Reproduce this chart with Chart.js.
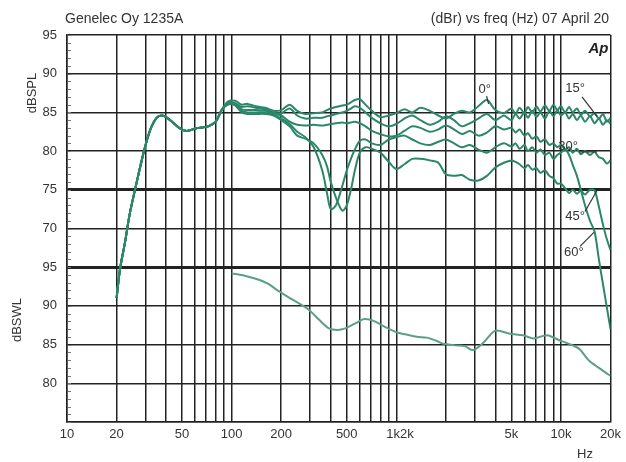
<!DOCTYPE html>
<html><head><meta charset="utf-8">
<script src="https://cdn.jsdelivr.net/npm/chart.js@4.4.1/dist/chart.umd.min.js"></script>
<style>html,body{margin:0;padding:0;background:#fff;}#wrap{width:626px;height:462px;position:relative}</style>
</head><body><div id="wrap"><canvas id="c" width="626" height="462"></canvas></div>
<script>
// ---------- data ----------
const freqHz = [20, 21, 22.5, 24, 26, 28, 30, 32.5, 35, 37.5, 40, 44, 48, 53, 58, 63, 72, 80, 87,
  95, 105, 115, 125, 140, 160, 180,
  200, 225, 250, 280, 315, 355, 380, 400, 430, 470,
  500, 530, 560, 600, 650, 710, 800, 900, 1000,
  1120, 1250, 1400, 1600, 1800, 2000, 2240, 2500, 2800, 3150,
  3550, 4000, 4500, 5000, 5300, 5600, 6000, 6300, 6700, 7100,
  7500, 8000, 8500, 9000, 9500, 10000, 10600, 11200, 11800, 12500,
  13200, 14000, 15000, 16000, 17000, 18000, 19000, 20000];

// shared low-frequency part (20..87 Hz), dBSPL
const splCommon = [61.0, 64.8, 68.2, 71.8, 75.2, 78.2, 80.8, 83.1, 84.3, 84.6, 84.4, 83.7, 83.0, 82.6, 82.8, 83.0, 83.2, 83.8, 85.3];

// per-angle part (95 Hz .. 20 kHz), dBSPL
const spl0 = [86.4, 86.5, 86.0, 86.1, 85.8, 85.6, 85.2,
  85.3, 86.0, 85.2, 84.8, 84.9, 85.0, 85.3, 85.5, 85.7, 85.9,
  86.0, 86.3, 86.6, 86.7, 86.0, 85.2, 84.4, 84.6, 84.9,
  85.4, 85.0, 85.6, 85.2, 84.6, 84.2, 84.8, 85.2, 85.0, 85.8,
  86.6, 85.3, 84.9, 85.5, 84.8, 85.6, 84.9, 85.7, 85.0, 85.8,
  85.1, 85.9, 85.2, 86.0, 85.3, 85.8, 85.0, 85.7, 85.0, 85.5,
  84.7, 85.2, 84.5, 84.9, 84.2, 84.8, 83.8, 84.3];
const spl15 = [86.2, 86.2, 85.7, 85.8, 85.6, 85.4, 85.0,
  84.9, 85.5, 84.6, 84.2, 84.3, 84.3, 84.5, 84.6, 84.8, 85.0,
  85.2, 85.5, 85.8, 85.6, 85.0, 84.3, 83.6, 83.2, 83.5,
  84.2, 84.6, 84.0, 83.4, 83.8, 84.5, 84.0, 83.2, 83.6, 84.2,
  84.8, 84.0, 84.6, 84.0, 84.8, 84.2, 85.0, 84.3, 85.2, 84.4,
  85.0, 84.2, 85.2, 84.5, 85.3, 84.6, 85.0, 84.2, 84.8, 84.0,
  84.6, 83.8, 84.5, 83.6, 84.2, 83.4, 84.0, 83.5];
const spl30 = [86.0, 86.0, 85.4, 85.3, 85.3, 85.2, 84.9,
  84.6, 83.8, 83.4, 83.3, 83.4, 83.3, 83.4, 83.5, 83.6, 83.7,
  83.6, 83.7, 83.8, 83.6, 83.2, 82.6, 82.2, 81.9, 82.0,
  82.6, 83.2, 83.0, 82.5, 82.8, 83.3, 82.8, 82.2, 82.6, 82.0,
  82.4, 83.2, 82.8, 83.0, 82.4, 82.8, 82.0, 82.3, 81.6, 81.9,
  81.2, 81.5, 80.8, 81.0, 80.5, 80.8, 80.2, 80.5, 79.8, 80.3,
  79.6, 80.0, 79.5, 79.9, 79.2, 79.0, 78.4, 78.8];
const spl45 = [86.1, 85.9, 85.0, 84.8, 84.8, 84.8, 84.6,
  84.0, 83.2, 82.0, 81.6, 81.0, 79.5, 78.0, 76.0, 74.0, 72.3,
  73.0, 75.0, 77.5, 79.8, 80.5, 80.3, 79.8, 78.6, 77.7,
  78.3, 79.0, 79.0, 78.8, 78.5, 77.0, 76.8, 76.9, 76.3, 76.2,
  76.8, 77.9, 78.5, 78.8, 78.6, 78.3, 77.8, 78.2, 77.6, 77.8,
  77.2, 77.5, 76.8, 76.5, 75.8, 75.8, 75.2, 74.6, 75.0, 74.5,
  74.9, 74.4, 75.0, 74.9, 72.8, 70.5, 68.6, 67.2];
const spl60 = [86.3, 86.1, 85.2, 85.0, 85.0, 85.0, 84.7,
  84.2, 83.5, 82.5, 81.8, 80.5, 77.5, 74.5, 72.5, 73.0, 75.5,
  77.5, 79.0, 80.2, 81.3, 81.5, 81.0, 80.8, 81.5, 81.8,
  82.0, 81.5, 81.0, 80.8, 81.2, 81.5, 81.0, 80.5, 80.8, 80.2,
  79.8, 80.5, 81.0, 80.6, 81.0, 80.3, 80.8, 80.0, 80.5, 79.8,
  80.2, 79.5, 79.8, 79.0, 79.5, 79.8, 80.2, 79.5, 78.2, 76.8,
  75.0, 73.0, 71.0, 69.6, 66.0, 62.8, 59.8, 57.0];

// sound power curve, dBSWL
const swlFreqHz = [100, 120, 140, 165, 190, 230, 290, 340, 390, 440, 490, 560, 640, 740, 850, 1000, 1150, 1330, 1530, 1750,
  1940, 2300, 2600, 2930, 3400, 4000, 4900, 5900, 6800, 8200, 9700, 11800, 13000, 14700, 16200, 17800, 19500, 20000];
const swlValues = [94.2, 93.9, 93.5, 92.9, 92.0, 90.9, 89.6, 88.2, 87.1, 86.9, 87.1, 87.7, 88.3, 88.0, 87.3, 86.6, 86.3, 86.0, 85.9, 85.5,
  85.1, 84.9, 84.8, 84.3, 85.3, 86.8, 86.4, 86.2, 85.8, 86.2, 85.6, 84.9, 84.4, 83.0, 82.3, 81.7, 81.1, 81.0];

const xTickHz = [10, 20, 30, 40, 50, 60, 70, 80, 90, 100, 200, 300, 400, 500, 600, 700, 800, 900,
  1000, 2000, 3000, 4000, 5000, 6000, 7000, 8000, 9000, 10000, 20000];
const xTickLabels = {10: '10', 20: '20', 50: '50', 100: '100', 200: '200', 500: '500', 1000: '  1k2k', 5000: '5k', 10000: '10k', 20000: '20k'};
const splAxisMin = 45, splAxisMax = 95;      // top (dBSPL) scale
const swlOffset = 30;                         // dBSWL = axis value + 30 in the lower section
const thickLines = [75, 65];

const angleNames = ['0°', '15°', '30°', '45°', '60°'];
const angleLabelAt = [[3440, 88.0], [12200, 88.1], [11050, 80.6], [12200, 71.5], [11970, 66.9]];
const angleLeaders = [
  [[3535, 87.1], [3635, 86.1]],
  [[13430, 87.0], [16550, 84.5]],
  [[12880, 79.9], [16550, 79.9]],
  [[14000, 72.2], [16550, 74.9]],
  [[13060, 67.7], [15850, 69.5]]
];

// ---------- chart ----------
const FONT = '"Liberation Sans", Arial, Helvetica, sans-serif';
const TXT = '#333';
const lineColor = '#2b876a';

function series(vals) {
  const full = splCommon.concat(vals);
  return freqHz.map((f, i) => ({x: f, y: full[i]}));
}
const splSets = [spl0, spl15, spl30, spl45, spl60].map((v, i) => ({
  label: angleNames[i], data: series(v), yAxisID: 'y',
  borderColor: lineColor, borderWidth: 2, pointRadius: 0, tension: 0.3, fill: false
}));
const swlSet = {
  label: 'SWL', data: swlFreqHz.map((f, i) => ({x: f, y: swlValues[i]})), yAxisID: 'y2',
  borderColor: '#5c9f88', borderWidth: 2, pointRadius: 0, tension: 0.3, fill: false
};

const minorTicks = {
  id: 'minorTicks',
  beforeDatasetsDraw(chart) {
    const {ctx, chartArea: a, scales: {y}} = chart;
    ctx.save();
    ctx.strokeStyle = '#777'; ctx.lineWidth = 1;
    for (let v = splAxisMin; v <= splAxisMax; v++) {
      const py = Math.round(y.getPixelForValue(v)) + 0.5;
      ctx.beginPath(); ctx.moveTo(a.left + 1, py); ctx.lineTo(a.left + 4, py); ctx.stroke();
    }
    ctx.restore();
  }
};

const texts = {
  id: 'texts',
  afterDraw(chart) {
    const {ctx, chartArea: a, scales: {x, y}} = chart;
    ctx.save();
    ctx.fillStyle = TXT;
    ctx.font = '14px ' + FONT;
    ctx.textBaseline = 'alphabetic';
    ctx.textAlign = 'left';
    ctx.fillText('Genelec Oy 1235A', 65, 23);
    ctx.textAlign = 'right';
    ctx.fillText('(dBr) vs freq (Hz) 07 April 20', 609, 23);
    // Ap logo
    ctx.font = 'italic bold 15px ' + FONT;
    ctx.textAlign = 'center'; ctx.textBaseline = 'middle';
    ctx.fillStyle = '#222';
    ctx.fillText('Ap', a.right - 12, a.top + 14);
    // Hz
    ctx.fillStyle = TXT;
    ctx.font = '13px ' + FONT;
    ctx.fillText('Hz', 585, 454);
    // axis titles
    const vt = (t, cx, cy) => { ctx.save(); ctx.translate(cx, cy); ctx.rotate(-Math.PI / 2); ctx.fillText(t, 0, 0); ctx.restore(); };
    vt('dBSPL', 32, 93);
    vt('dBSWL', 17, 320);
    // angle labels and leaders
    ctx.font = '13px ' + FONT;
    angleNames.forEach((n, i) => {
      const [f, v] = angleLabelAt[i];
      ctx.fillStyle = TXT;
      ctx.fillText(n, x.getPixelForValue(f), y.getPixelForValue(v));
      const [p0, p1] = angleLeaders[i];
      ctx.strokeStyle = '#333'; ctx.lineWidth = 1.2;
      ctx.beginPath();
      ctx.moveTo(x.getPixelForValue(p0[0]), y.getPixelForValue(p0[1]));
      ctx.lineTo(x.getPixelForValue(p1[0]), y.getPixelForValue(p1[1]));
      ctx.stroke();
    });
    ctx.restore();
  }
};

new Chart(document.getElementById('c'), {
  type: 'line',
  data: {datasets: splSets.concat([swlSet])},
  options: {
    responsive: false, animation: false, devicePixelRatio: 1,
    layout: {padding: {left: 0, right: 11, top: 35, bottom: 0}},
    plugins: {legend: {display: false}, tooltip: {enabled: false}},
    scales: {
      x: {
        type: 'logarithmic', min: 10, max: 20000,
        afterBuildTicks: s => { s.ticks = xTickHz.map(v => ({value: v})); },
        afterFit: s => { s.height = 40; },
        ticks: {autoSkip: false, maxRotation: 0, minRotation: 0, padding: 5, color: TXT,
          font: {family: FONT, size: 13},
          callback: v => xTickLabels[v] !== undefined ? xTickLabels[v] : ''},
        grid: {color: '#222', lineWidth: 1.5, drawTicks: false},
        border: {color: '#222', width: 1.5}
      },
      y: {
        type: 'linear', min: splAxisMin, max: splAxisMax,
        afterFit: s => { s.width = 67; },
        ticks: {stepSize: 5, padding: 10, color: TXT, font: {family: FONT, size: 13},
          callback: v => v >= 70 ? String(v) : (v > splAxisMin ? String(v + swlOffset) : '')},
        grid: {color: '#222', drawTicks: false,
          lineWidth: c => (c.tick && thickLines.includes(c.tick.value)) ? 3 : 1.5},
        border: {color: '#222', width: 1.5}
      },
      y2: {type: 'linear', display: false, min: splAxisMin + swlOffset, max: splAxisMax + swlOffset}
    }
  },
  plugins: [minorTicks, texts]
});
</script>
</body></html>
